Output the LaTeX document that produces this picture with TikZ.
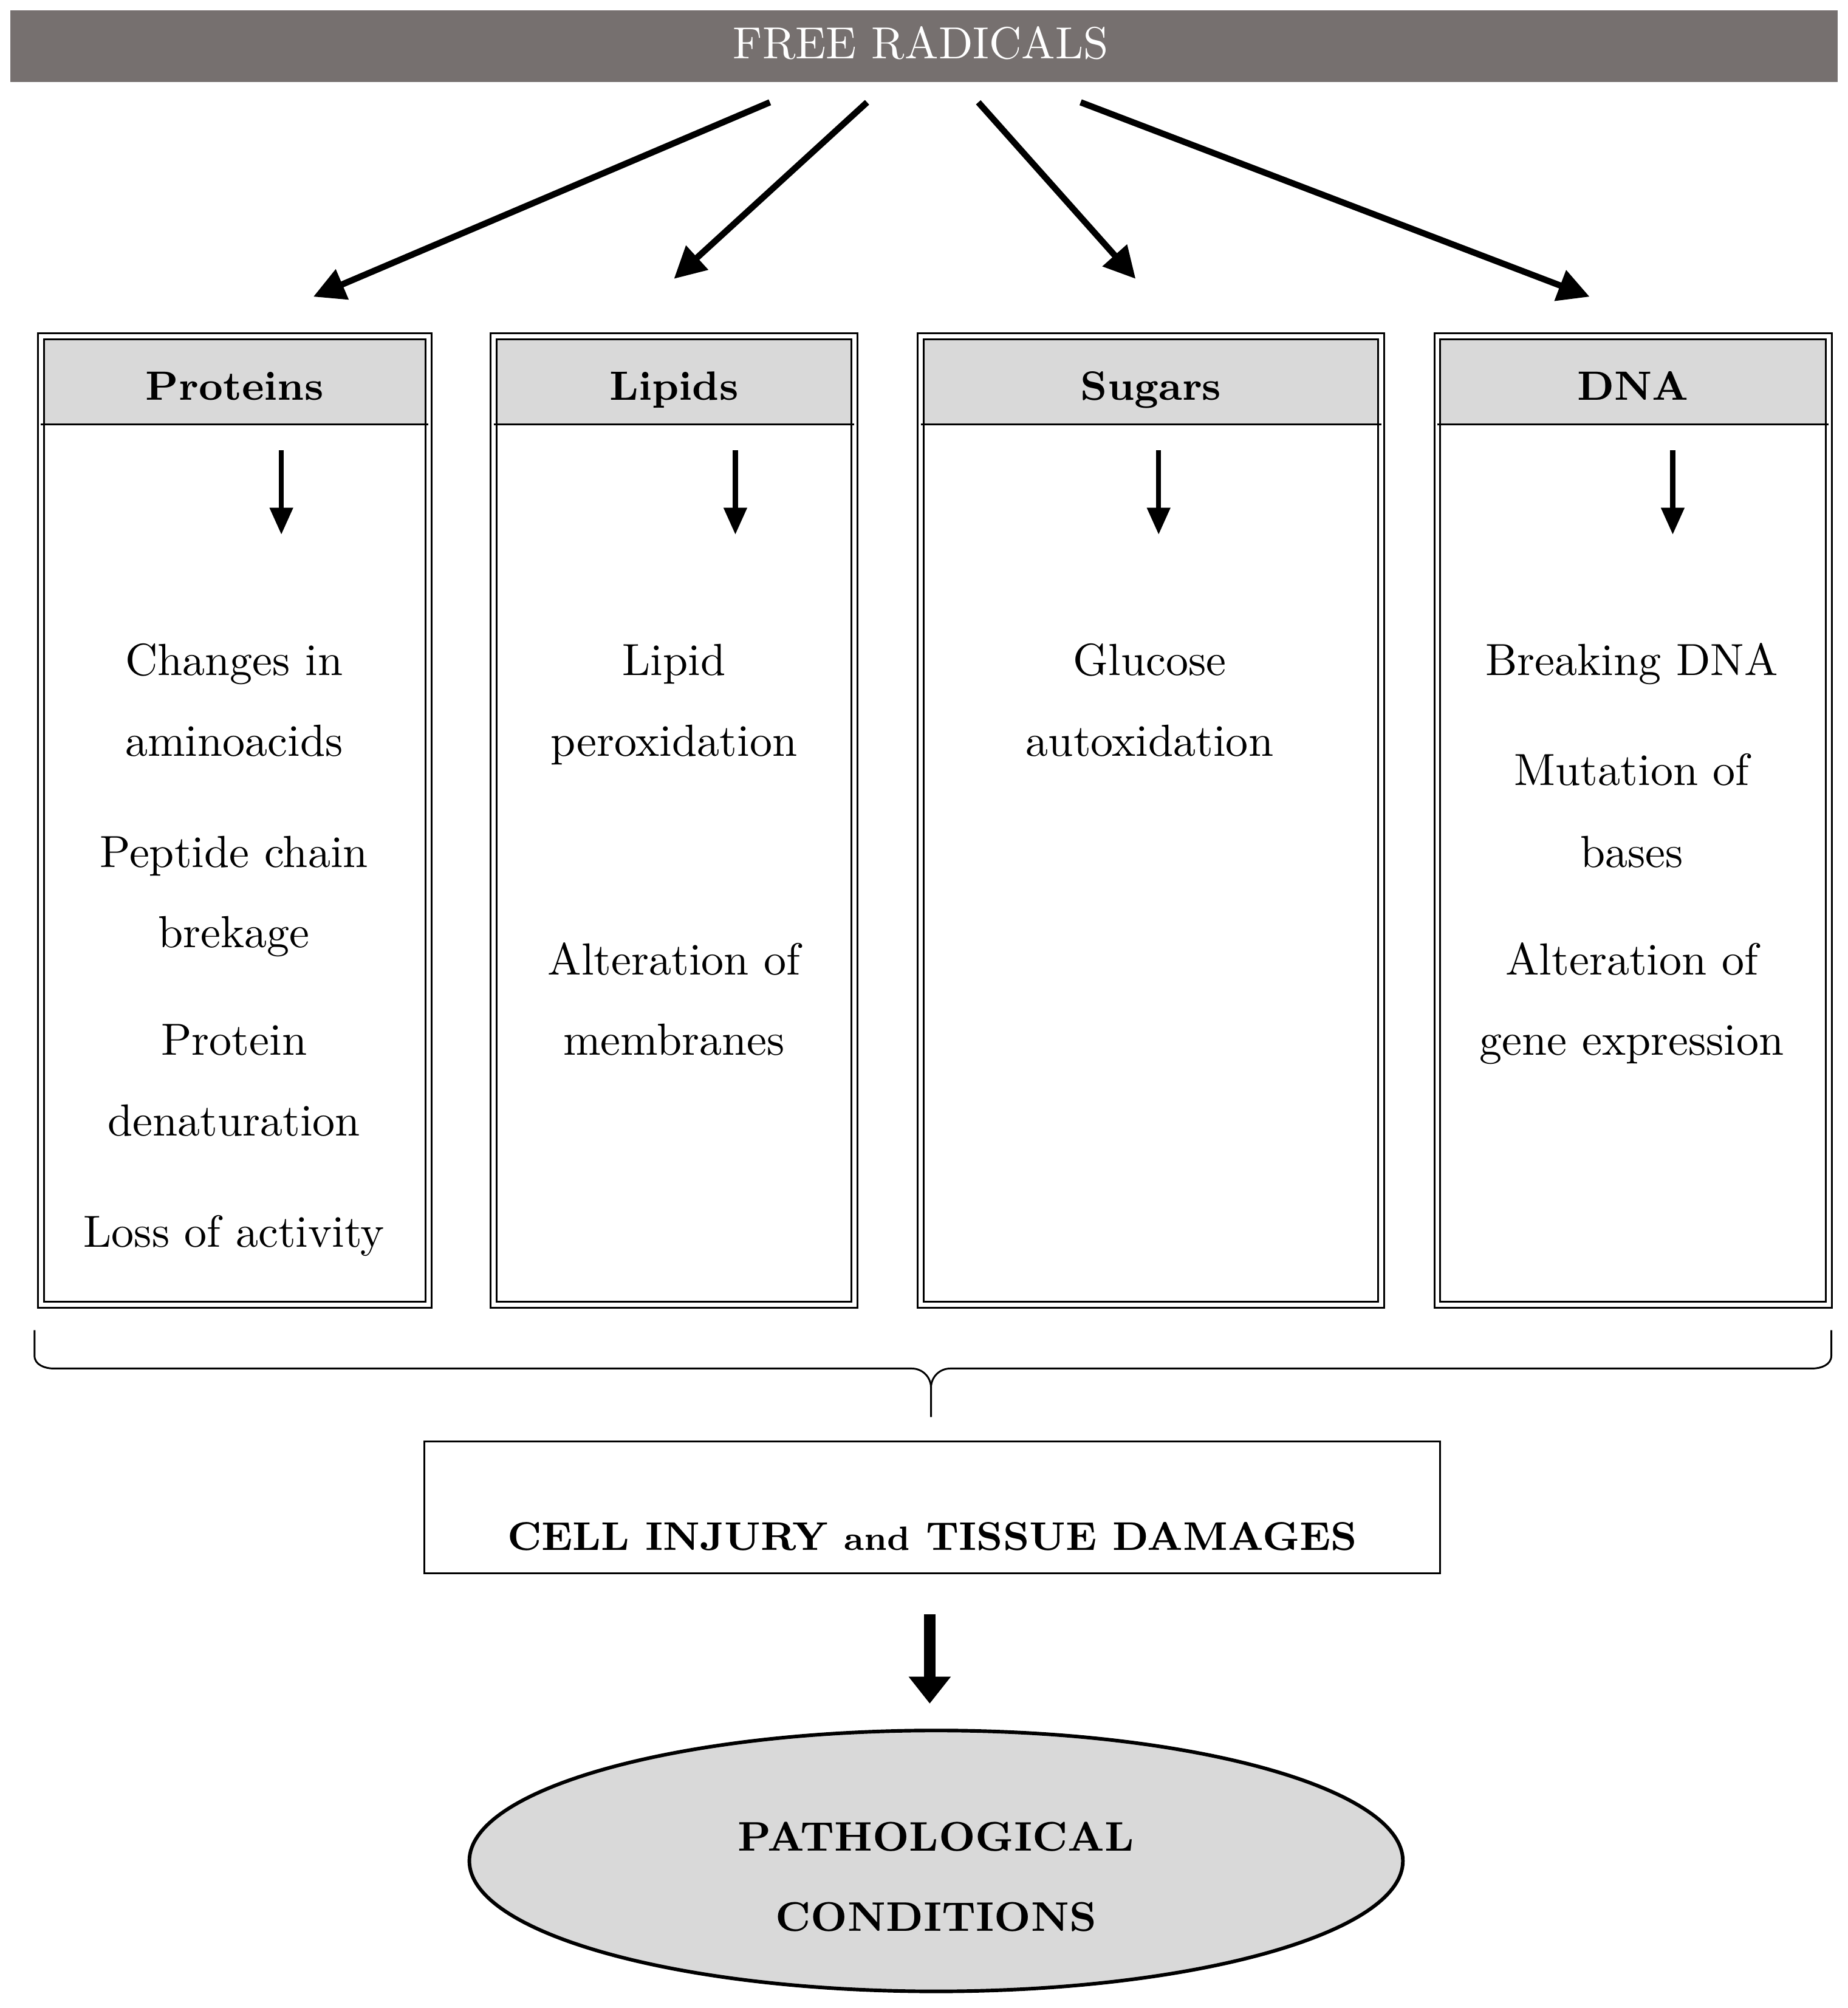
\documentclass[tikz,border=0pt]{standalone}
\usetikzlibrary{arrows.meta,positioning}
\definecolor{bargray}{HTML}{76706F}
\definecolor{headgray}{HTML}{D9D9D9}
\begin{document}
\begin{tikzpicture}[x=0.01cm,y=-0.01cm,
    txt/.style={anchor=base,font=\fontsize{10}{12}\selectfont},
    head/.style={txt,font=\fontsize{9.1}{11}\selectfont\bfseries},
    bigarrow/.style={line width=1.4pt,-{Triangle[length=7pt,width=7pt]}},
    smallarrow/.style={line width=1.1pt,-{Triangle[length=6pt,width=5pt]}},
    colbox/.style={draw,double,double distance=0.9pt,thin}]
    \useasboundingbox (0,0) rectangle (1445,1570);
    % top bar
    \fill[bargray] (8,8) rectangle (1437,64);
    \node[txt,text=white] (fr) at (720,46) {FREE RADICALS};
    \coordinate (s1) at (602,80); \coordinate (e1) at (245,232);
    \coordinate (s2) at (678,80); \coordinate (e2) at (527,218);
    \coordinate (s3) at (765,80); \coordinate (e3) at (888,218);
    \coordinate (s4) at (845,80); \coordinate (e4) at (1243,232);
    \foreach \i in {1,...,4} \draw[bigarrow] (s\i) -- (e\i);

    % columns: left, right, arrow x, name, title
    \foreach \l/\r/\ax/\nm/\ttl in {32/335/220/prot/Proteins,386/668/575/lip/Lipids,720/1080/906/sug/Sugars,1124/1430/1308/dna/DNA}{
        \fill[headgray] (\l,263) rectangle (\r,332);
        \draw[colbox] (\l,263) rectangle (\r,1020);
        \draw[thin] (\l,332) -- (\r,332);
        \node[head] (\nm) at ({(\l+\r)/2},313) {\ttl};
        \coordinate (\nm a) at (\ax,352);
        \coordinate (\nm b) at (\ax,418);
        \draw[smallarrow] (\nm a) -- (\nm b);
    }
    % column texts
    \foreach \y/\t [count=\n] in {528/Changes in,591/aminoacids,678/Peptide chain,741/brekage,825/Protein,888/denaturation,975/Loss of activity}
        \node[txt] (pt\n) at (183,\y) {\t};
    \foreach \y/\t [count=\n] in {528/Lipid,591/peroxidation,762/Alteration of,825/membranes}
        \node[txt] (lt\n) at (527,\y) {\t};
    \foreach \y/\t [count=\n] in {528/Glucose,591/autoxidation}
        \node[txt] (st\n) at (899,\y) {\t};
    \foreach \y/\t [count=\n] in {528/Breaking DNA,614/Mutation of,678/bases,762/Alteration of,825/gene expression}
        \node[txt] (dt\n) at (1276,\y) {\t};

    % brace
    \draw[thin] (27,1040) -- (27,1060) to[out=-90,in=180] (42,1070) -- (713,1070)
        to[out=0,in=90] (728,1085) -- (728,1108);
    \draw[thin] (1432,1040) -- (1432,1060) to[out=-90,in=0] (1417,1070) -- (743,1070)
        to[out=180,in=90] (728,1085);

    % bottom
    \draw[thin] (332,1127) rectangle (1126,1230);
    \node[head,font=\fontsize{8.9}{11}\selectfont\bfseries] (cell) at (729,1212) {CELL INJURY {\fontsize{7.5}{9}\selectfont and} TISSUE DAMAGES};
    \coordinate (ca) at (727,1262); \coordinate (cb) at (727,1332);
    \draw[line width=2.6pt,-{Triangle[length=6pt,width=9pt]}] (ca) -- (cb);
    \draw[thick,fill=headgray] (732,1455) ellipse [x radius=365,y radius=102];
    \node[head,font=\fontsize{9.2}{11}\selectfont\bfseries] (path1) at (732,1447) {PATHOLOGICAL};
    \node[head,font=\fontsize{9.2}{11}\selectfont\bfseries] (path2) at (732,1510) {CONDITIONS};
\end{tikzpicture}
\end{document}
